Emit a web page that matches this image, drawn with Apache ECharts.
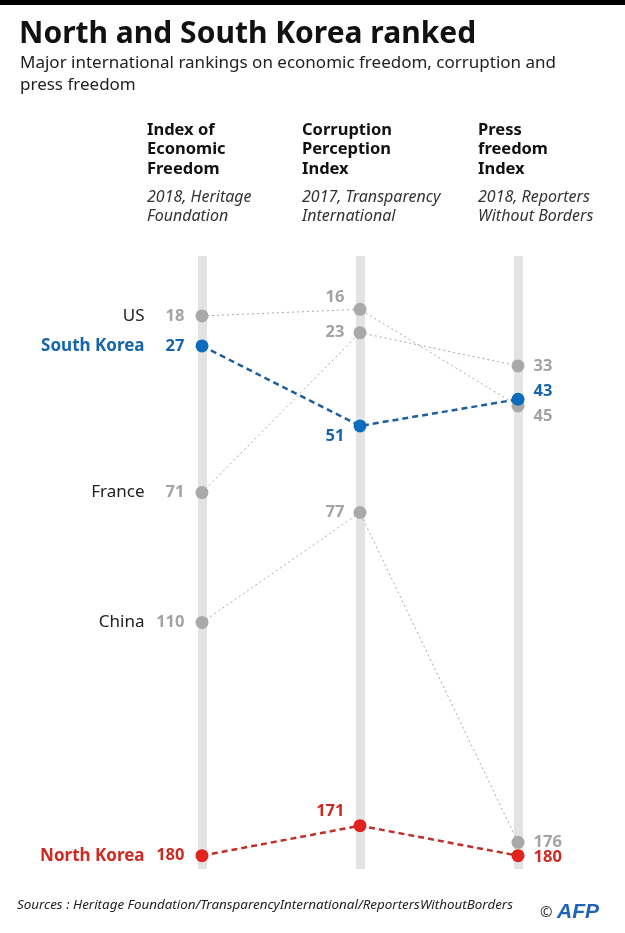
<!DOCTYPE html>
<html>
<head>
<meta charset="utf-8">
<script src="https://cdn.jsdelivr.net/npm/echarts@6/dist/echarts.min.js"></script>
<style>
html,body{margin:0;padding:0;background:#fff;}
#chart{width:625px;height:933px;}
</style>
</head>
<body>
<div id="chart"></div>
<script>
// ---- data ----
const columns = ['Economic Freedom', 'Corruption Perception', 'Press freedom'];
const headerLines = [['Index of', 'Economic', 'Freedom'], ['Corruption', 'Perception', 'Index'], ['Press', 'freedom', 'Index']];
const headerSources = [['2018, Heritage', 'Foundation'], ['2017, Transparency', 'International'], ['2018, Reporters', 'Without Borders']];
const countries = ['US', 'France', 'China', 'South Korea', 'North Korea'];
const us = [18, 16, 45];
const france = [71, 23, 33];
const china = [110, 77, 176];
const southKorea = [27, 51, 43];
const northKorea = [180, 171, 180];
const titleText = 'North and South Korea ranked';
const subtitleLines = ['Major international rankings on economic freedom, corruption and', 'press freedom'];
const sourceText = 'Sources : Heritage Foundation/TransparencyInternational/ReportersWithoutBorders';

// ---- styles ----
const GRAY = '#a9a9ab', GRAY_TXT = '#a3a3a5';
const BLUE = '#0b6bbd', BLUE_LINE = '#1f5f9e', BLUE_TXT = '#1565ad';
const RED = '#e0231d', RED_LINE = '#c0302a', RED_TXT = '#cf2a22';
const FONT = 'Noto Sans';

// label placement per country per column: [position, offset]
const place = {
  'US':          [null, ['left', [0, -12]], ['right', [0, 10]]],
  'France':      [null, ['left', [0, 0]],   ['right', [0, 0]]],
  'China':       [null, ['left', [0, 0]],   ['right', [0, 0]]],
  'South Korea': [null, ['left', [0, 10]],  ['right', [0, -8]]],
  'North Korea': [null, ['left', [0, -14]], ['right', [0, 2]]]
};

function mkSeries(name, vals, dotColor, lineColor, txtColor, highlight) {
  const data = vals.map((v, i) => {
    let label;
    if (i === 0) {
      label = {
        show: true, position: 'left', distance: 11,
        formatter: '{n|' + name + '}{v|' + v + '}',
        rich: {
          n: { fontFamily: FONT, fontSize: 17, fontWeight: highlight ? 'bold' : 'normal', color: highlight ? txtColor : '#222' },
          v: { fontFamily: FONT, fontSize: 16.5, fontWeight: 'bold', color: txtColor, width: 40, align: 'right' }
        }
      };
    } else {
      const p = place[name][i];
      label = {
        show: true, position: p[0], offset: p[1], distance: 9,
        formatter: String(v),
        fontFamily: FONT, fontSize: 16.5, fontWeight: 'bold', color: txtColor
      };
    }
    return { value: [i, v], label: label };
  });
  return {
    type: 'line', name: name, data: data,
    symbol: 'circle', symbolSize: 13,
    itemStyle: { color: dotColor },
    lineStyle: highlight
      ? { color: lineColor, width: 2.5, type: [6, 4] }
      : { color: lineColor, width: 1, type: [2, 3] },
    z: highlight ? 5 : 3,
    silent: true, animation: false
  };
}

const graphics = [];
graphics.push({ type: 'rect', shape: { x: 0, y: 0, width: 625, height: 5 }, style: { fill: '#000' } });
graphics.push({ type: 'text', x: 19, y: 34, style: { text: titleText, fontFamily: FONT, fontWeight: 'bold', fontSize: 30, fill: '#111', verticalAlign: 'middle' } });
subtitleLines.forEach((t, i) => graphics.push({ type: 'text', x: 20, y: 63 + i * 22, style: { text: t, fontFamily: FONT, fontSize: 17, fill: '#222', verticalAlign: 'middle' } }));
const headerX = [147, 302, 478];
headerLines.forEach((lines, c) => {
  lines.forEach((t, i) => graphics.push({ type: 'text', x: headerX[c], y: 130 + i * 19.5, style: { text: t, fontFamily: FONT, fontWeight: 'bold', fontSize: 16.5, fill: '#111', verticalAlign: 'middle' } }));
  headerSources[c].forEach((t, i) => graphics.push({ type: 'text', x: headerX[c], y: 197 + i * 19.5, style: { text: t, fontFamily: FONT, fontStyle: 'italic', fontSize: 16, fill: '#333', verticalAlign: 'middle' } }));
});
graphics.push({ type: 'text', x: 17, y: 905, style: { text: sourceText, fontFamily: FONT, fontStyle: 'italic', fontSize: 13.4, fill: '#222', verticalAlign: 'middle' } });
graphics.push({ type: 'text', x: 540, y: 913, style: { text: '©', fontFamily: FONT, fontSize: 15, fill: '#333', verticalAlign: 'middle' } });
graphics.push({ type: 'text', x: 557, y: 912, style: { text: 'AFP', fontFamily: 'Liberation Sans', fontStyle: 'italic', fontWeight: 'bold', fontSize: 21, fill: '#1e63b5', verticalAlign: 'middle' } });

const chart = echarts.init(document.getElementById('chart'), null, { renderer: 'canvas' });
chart.setOption({
  animation: false,
  backgroundColor: '#fff',
  grid: { left: 202, right: 107, top: 256, height: 613 },
  xAxis: {
    type: 'value', min: 0, max: 2, interval: 1,
    axisLine: { show: false }, axisTick: { show: false }, axisLabel: { show: false },
    splitLine: { show: true, lineStyle: { color: '#e3e3e3', width: 9 } }
  },
  yAxis: {
    type: 'value', inverse: true, min: 0, max: 184,
    axisLine: { show: false }, axisTick: { show: false }, axisLabel: { show: false },
    splitLine: { show: false }
  },
  graphic: graphics,
  series: [
    mkSeries('US', us, GRAY, GRAY, GRAY_TXT, false),
    mkSeries('France', france, GRAY, GRAY, GRAY_TXT, false),
    mkSeries('China', china, GRAY, GRAY, GRAY_TXT, false),
    mkSeries('South Korea', southKorea, BLUE, BLUE_LINE, BLUE_TXT, true),
    mkSeries('North Korea', northKorea, RED, RED_LINE, RED_TXT, true)
  ]
});
</script>
</body>
</html>
